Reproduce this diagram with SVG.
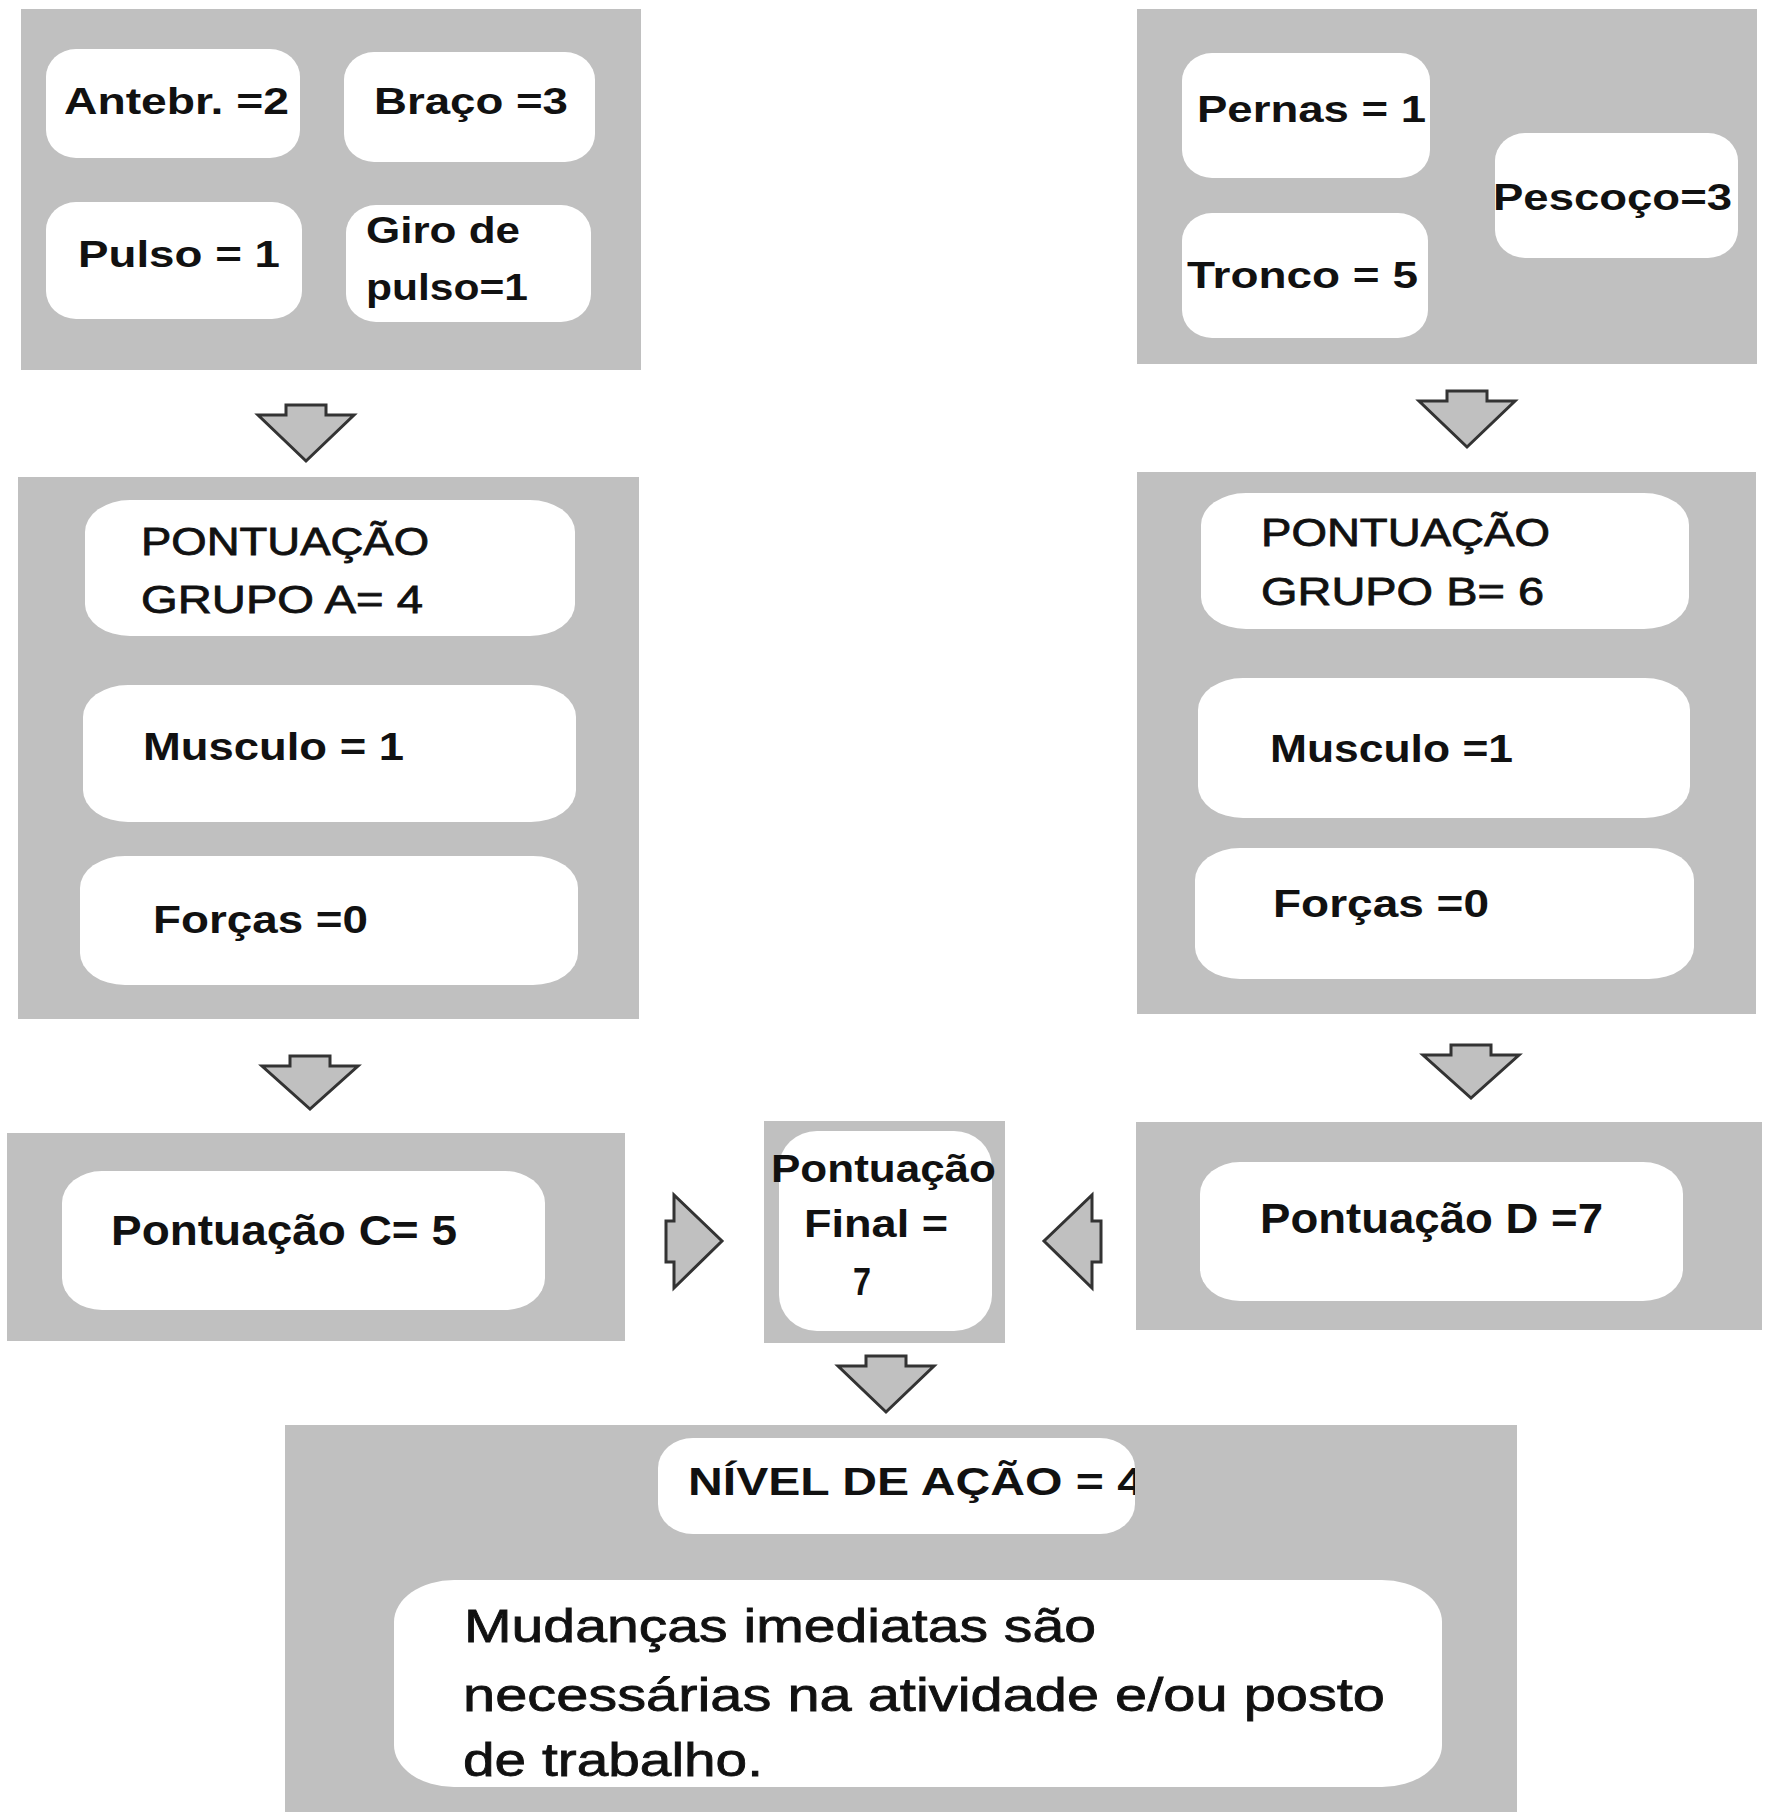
<svg xmlns="http://www.w3.org/2000/svg" width="1769" height="1812" viewBox="0 0 1769 1812">
<style>
.bg{fill:#ffffff}
.panel{fill:#c0c0c0}
.box{fill:#ffffff}
.arr{fill:#c0c0c0;stroke:#333333;stroke-width:3;stroke-linejoin:miter}
text{font-family:"Liberation Sans",Arial,sans-serif;fill:#111111}
.b{font-weight:bold}
.r{font-weight:normal;stroke:#111111;stroke-width:0.8}
</style>
<defs>
<clipPath id="clipNivel"><rect x="658" y="1438" width="477" height="96" rx="35" ry="30"/></clipPath>
</defs>
<rect class="bg" x="0" y="0" width="1769" height="1812"/>

<g id="grupo-a-entrada">
<rect class="panel" x="21" y="9" width="620" height="361"/>
<g id="antebr"><rect class="box" x="46" y="49" width="254" height="109" rx="30" ry="28"/>
<text class="b" x="64" y="114" font-size="36" textLength="225" lengthAdjust="spacingAndGlyphs">Antebr. =2</text></g>
<g id="braco"><rect class="box" x="344" y="52" width="251" height="110" rx="30" ry="28"/>
<text class="b" x="374" y="114" font-size="36" textLength="194" lengthAdjust="spacingAndGlyphs">Braço =3</text></g>
<g id="pulso"><rect class="box" x="46" y="202" width="256" height="117" rx="30" ry="28"/>
<text class="b" x="78" y="267" font-size="36" textLength="202" lengthAdjust="spacingAndGlyphs">Pulso = 1</text></g>
<g id="giro"><rect class="box" x="346" y="205" width="245" height="117" rx="30" ry="28"/>
<text class="b" x="366" y="243" font-size="36" textLength="154" lengthAdjust="spacingAndGlyphs">Giro de</text>
<text class="b" x="366" y="300" font-size="36" textLength="162" lengthAdjust="spacingAndGlyphs">pulso=1</text></g>
</g>

<g id="grupo-b-entrada">
<rect class="panel" x="1137" y="9" width="620" height="355"/>
<g id="pernas"><rect class="box" x="1182" y="53" width="248" height="125" rx="30" ry="28"/>
<text class="b" x="1197" y="122" font-size="36" textLength="229" lengthAdjust="spacingAndGlyphs">Pernas = 1</text></g>
<g id="tronco"><rect class="box" x="1182" y="213" width="246" height="125" rx="30" ry="28"/>
<text class="b" x="1187" y="288" font-size="36" textLength="231" lengthAdjust="spacingAndGlyphs">Tronco = 5</text></g>
<g id="pescoco"><rect class="box" x="1495" y="133" width="243" height="125" rx="30" ry="28"/>
<text class="b" x="1493" y="210" font-size="36" textLength="239" lengthAdjust="spacingAndGlyphs">Pescoço=3</text></g>
</g>

<g id="grupo-a">
<rect class="panel" x="18" y="477" width="621" height="542"/>
<g id="pont-a"><rect class="box" x="85" y="500" width="490" height="136" rx="45" ry="32"/>
<text class="r" x="141" y="555" font-size="39" textLength="288" lengthAdjust="spacingAndGlyphs">PONTUAÇÃO</text>
<text class="r" x="141" y="613" font-size="39" textLength="282" lengthAdjust="spacingAndGlyphs">GRUPO A= 4</text></g>
<g id="musculo-a"><rect class="box" x="83" y="685" width="493" height="137" rx="45" ry="32"/>
<text class="b" x="143" y="760" font-size="38" textLength="261" lengthAdjust="spacingAndGlyphs">Musculo = 1</text></g>
<g id="forcas-a"><rect class="box" x="80" y="856" width="498" height="129" rx="45" ry="32"/>
<text class="b" x="153" y="933" font-size="38" textLength="215" lengthAdjust="spacingAndGlyphs">Forças =0</text></g>
</g>

<g id="grupo-b">
<rect class="panel" x="1137" y="472" width="619" height="542"/>
<g id="pont-b"><rect class="box" x="1201" y="493" width="488" height="136" rx="45" ry="32"/>
<text class="r" x="1261" y="546" font-size="39" textLength="289" lengthAdjust="spacingAndGlyphs">PONTUAÇÃO</text>
<text class="r" x="1261" y="605" font-size="39" textLength="283" lengthAdjust="spacingAndGlyphs">GRUPO B= 6</text></g>
<g id="musculo-b"><rect class="box" x="1198" y="678" width="492" height="140" rx="45" ry="32"/>
<text class="b" x="1270" y="762" font-size="38" textLength="243" lengthAdjust="spacingAndGlyphs">Musculo =1</text></g>
<g id="forcas-b"><rect class="box" x="1195" y="848" width="499" height="131" rx="45" ry="32"/>
<text class="b" x="1273" y="917" font-size="38" textLength="216" lengthAdjust="spacingAndGlyphs">Forças =0</text></g>
</g>

<g id="pontuacao-c">
<rect class="panel" x="7" y="1133" width="618" height="208"/>
<rect class="box" x="62" y="1171" width="483" height="139" rx="40" ry="32"/>
<text class="b" x="111" y="1245" font-size="42" textLength="346" lengthAdjust="spacingAndGlyphs">Pontuação C= 5</text>
</g>

<g id="pontuacao-final">
<rect class="panel" x="764" y="1121" width="241" height="222"/>
<rect class="box" x="779" y="1131" width="213" height="200" rx="38" ry="36"/>
<text class="b" x="771" y="1182" font-size="39" textLength="225" lengthAdjust="spacingAndGlyphs">Pontuação</text>
<text class="b" x="804" y="1237" font-size="39" textLength="144" lengthAdjust="spacingAndGlyphs">Final =</text>
<text class="b" x="853" y="1295" font-size="39" textLength="18" lengthAdjust="spacingAndGlyphs">7</text>
</g>

<g id="pontuacao-d">
<rect class="panel" x="1136" y="1122" width="626" height="208"/>
<rect class="box" x="1200" y="1162" width="483" height="139" rx="40" ry="32"/>
<text class="b" x="1260" y="1233" font-size="42" textLength="343" lengthAdjust="spacingAndGlyphs">Pontuação D =7</text>
</g>

<g id="nivel-acao">
<rect class="panel" x="285" y="1425" width="1232" height="387"/>
<g id="nivel"><rect class="box" x="658" y="1438" width="477" height="96" rx="35" ry="30"/>
<text class="b" x="688" y="1495" font-size="38" textLength="456" lengthAdjust="spacingAndGlyphs" clip-path="url(#clipNivel)">NÍVEL DE AÇÃO = 4</text></g>
<g id="mudancas"><rect class="box" x="394" y="1580" width="1048" height="207" rx="60" ry="42"/>
<text class="r" x="464" y="1642" font-size="47" textLength="632" lengthAdjust="spacingAndGlyphs">Mudanças imediatas são</text>
<text class="r" x="463" y="1711" font-size="47" textLength="922" lengthAdjust="spacingAndGlyphs">necessárias na atividade e/ou posto</text>
<text class="r" x="463" y="1776" font-size="47" textLength="300" lengthAdjust="spacingAndGlyphs">de trabalho.</text></g>
</g>

<g id="connectors">
<path class="arr" d="M286,405 L326,405 L326,415 L354,415 L306,461 L258,415 L286,415 Z"/>
<path class="arr" d="M1447,391 L1487,391 L1487,401 L1515,401 L1467,447 L1419,401 L1447,401 Z"/>
<path class="arr" d="M290,1056 L330,1056 L330,1066 L358,1066 L310,1109 L262,1066 L290,1066 Z"/>
<path class="arr" d="M1451,1045 L1491,1045 L1491,1055 L1519,1055 L1471,1098 L1423,1055 L1451,1055 Z"/>
<path class="arr" d="M866,1356 L906,1356 L906,1366 L934,1366 L886,1412 L838,1366 L866,1366 Z"/>
<path class="arr" d="M666,1221 L674,1221 L674,1195 L722,1241 L674,1288 L674,1262 L666,1262 Z"/>
<path class="arr" d="M1101,1221 L1092,1221 L1092,1195 L1044,1241 L1092,1288 L1092,1262 L1101,1262 Z"/>
</g>
</svg>
